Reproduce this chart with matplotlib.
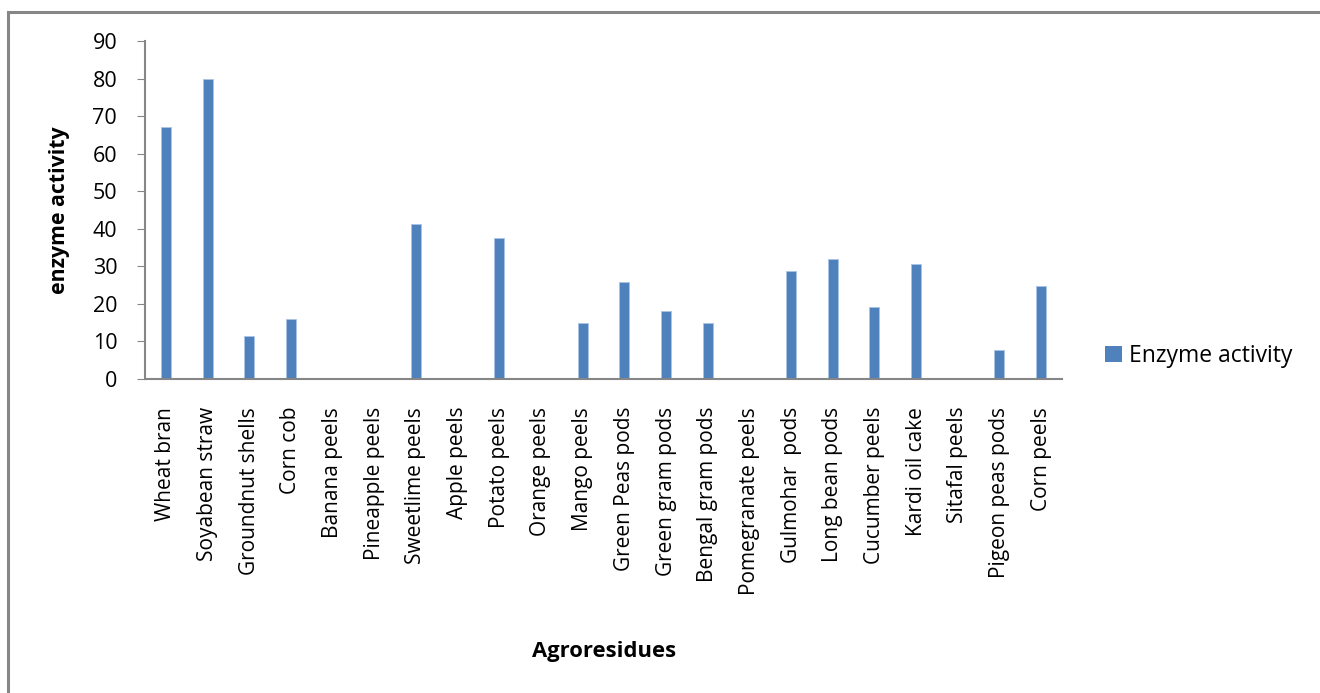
import matplotlib.pyplot as plt
from matplotlib.patches import Rectangle, Patch

plt.rcParams['font.family'] = ['Open Sans', 'DejaVu Sans']

# Data
residues = ["Wheat bran", "Soyabean straw", "Groundnut shells", "Corn cob",
            "Banana peels", "Pineapple peels", "Sweetlime peels", "Apple peels",
            "Potato peels", "Orange peels", "Mango peels", "Green Peas pods",
            "Green gram pods", "Bengal gram pods", "Pomegranate peels",
            "Gulmohar  pods", "Long bean pods", "Cucumber peels", "Kardi oil cake",
            "Sitafal peels", "Pigeon peas pods", "Corn peels"]
activity = [67.2, 80.0, 11.4, 16.1, 0, 0, 41.2, 0, 37.5, 0, 14.9, 25.9,
            18.2, 14.9, 0, 28.7, 31.9, 19.2, 30.7, 0, 7.7, 24.8]
y_ticks = [0, 10, 20, 30, 40, 50, 60, 70, 80, 90]

W, H = 1320, 693
fig = plt.figure(figsize=(W / 100, H / 100), dpi=100)
ax = fig.add_axes([145 / W, 1 - 379 / H, (1062 - 145) / W, (379 - 41) / H])

x = range(len(residues))
ax.bar(x, activity, width=0.24, color="#4f81bd", edgecolor="#a9c4e6",
       linewidth=0.6, label="Enzyme activity")

ax.set_xlim(-0.5, len(residues) - 0.5)
ax.set_ylim(0, 90)
ax.set_yticks(y_ticks)
ax.set_xticks(list(x))
ax.set_xticklabels(residues, rotation=90, fontsize=15)
ax.tick_params(axis="x", length=0, pad=20)
ax.tick_params(axis="y", labelsize=15.5, length=6, color="#868686", direction="out", pad=14)
for s in ["top", "right"]:
    ax.spines[s].set_visible(False)
for s in ["left", "bottom"]:
    ax.spines[s].set_color("#868686")
    ax.spines[s].set_linewidth(1.5)

fig.text(604 / W, 1 - 651 / H, "Agroresidues", fontsize=15.8, fontweight="bold",
         ha="center", va="center")
fig.text(60 / W, 1 - 210 / H, "enzyme activity", fontsize=15.3, fontweight="bold",
         rotation=90, ha="center", va="center")

handle = Patch(facecolor="#4f81bd", edgecolor="none")
fig.legend([handle], ["Enzyme activity"], loc="center left",
           bbox_to_anchor=(1084 / W, 1 - 356 / H), frameon=False, fontsize=16.5,
           handlelength=0.75, handleheight=0.75, handletextpad=0.3)

# outer chart-area border, cut off at right and bottom like the reference
fig.patches.append(Rectangle((8 / W, -0.1), 1.2, 1 - 12 / H + 0.1,
                             transform=fig.transFigure, fill=False,
                             edgecolor="#868686", linewidth=2.2))

fig.savefig("out.png", dpi=100)
